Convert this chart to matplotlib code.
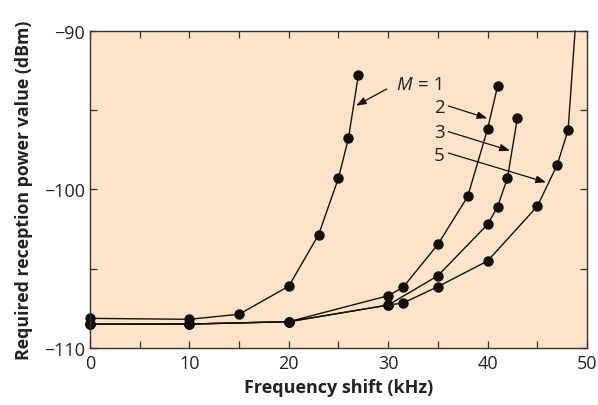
import matplotlib
matplotlib.use("Agg")
import matplotlib.pyplot as plt
from matplotlib.ticker import MultipleLocator

plt.rcParams['font.family'] = ['Open Sans', 'DejaVu Sans']

# Data
m1_x = [0, 10, 15, 20, 23, 25, 26, 27]
m1_y = [-108.13, -108.19, -107.87, -106.1, -102.85, -99.27, -96.77, -92.78]

m2_x = [0, 10, 20, 30, 31.5, 35, 38, 40, 41]
m2_y = [-108.5, -108.49, -108.34, -106.7, -106.17, -103.46, -100.44, -96.18, -93.49]

m3_x = [0, 10, 20, 30, 35, 40, 41, 42, 43]
m3_y = [-108.5, -108.49, -108.34, -107.29, -105.44, -102.2, -101.09, -99.27, -95.47]

m5_x = [0, 10, 20, 30, 31.5, 35, 40, 45, 47, 48.1, 48.8]
m5_y = [-108.5, -108.49, -108.34, -107.29, -107.16, -106.13, -104.51, -101.06, -98.45, -96.25, -90.0]

labels = ["1", "2", "3", "5"]
label_pos = [(35.7, -93.34), (35.7, -94.79), (35.7, -96.37), (35.7, -97.82)]
arrow_tail = [(29.85, -93.66), (36.05, -94.73), (36.05, -96.35), (36.05, -97.70)]
arrow_tip = [(26.76, -94.71), (39.97, -95.51), (42.25, -97.55), (45.88, -99.55)]

x_ticks = [0, 10, 20, 30, 40, 50]
y_ticks = [-110, -100, -90]

fig = plt.figure(figsize=(5.98, 4.06), dpi=100)
ax = fig.add_axes([0.1505, 0.1404, 0.8311, 0.7808])
ax.set_facecolor('#FDE3C8')

line_kw = dict(color='#111111', lw=1.0, marker='o', markersize=6.5,
               markerfacecolor='#111111', markeredgecolor='#111111', clip_on=False)
ax.plot(m1_x, m1_y, **line_kw)
ax.plot(m2_x, m2_y, **line_kw)
ax.plot(m3_x, m3_y, **line_kw)
ax.plot(m5_x, m5_y, markevery=list(range(len(m5_x) - 1)), **line_kw)

ax.set_xlim(0, 50)
ax.set_ylim(-110, -90)
ax.set_xticks(x_ticks)
ax.set_yticks(y_ticks)
ax.xaxis.set_minor_locator(MultipleLocator(5))
ax.yaxis.set_minor_locator(MultipleLocator(5))
ax.tick_params(which='both', direction='in', top=True, right=True, length=5,
               width=0.9, color='#333333', labelsize=13, labelcolor='#222222')
ax.tick_params(axis='x', pad=4)
for s in ax.spines.values():
    s.set_color('#333333')
    s.set_linewidth(1.0)

ax.set_xlabel('Frequency shift (kHz)', fontsize=13, fontweight='bold', color='#222222', labelpad=5)
ax.set_ylabel('Required reception power value (dBm)', fontsize=12.8, fontweight='bold',
              color='#222222', labelpad=8)

for i, (lab, (tx, ty), tail, tip) in enumerate(zip(labels, label_pos, arrow_tail, arrow_tip)):
    if i == 0:
        ax.text(tx, ty, '= ' + lab, fontsize=13.5, ha='right', va='center', color='#222222')
        ax.text(30.85, ty, 'M', fontsize=13.5, style='italic', ha='left', va='center', color='#222222')
    else:
        ax.text(tx, ty, lab, fontsize=13.5, ha='right', va='center', color='#222222')
    ax.annotate('', xy=tip, xytext=tail,
                arrowprops=dict(arrowstyle='-|>,head_length=0.6,head_width=0.22',
                                color='#111111', lw=0.9, shrinkA=0, shrinkB=0))

fig.savefig('out.png', dpi=100)
